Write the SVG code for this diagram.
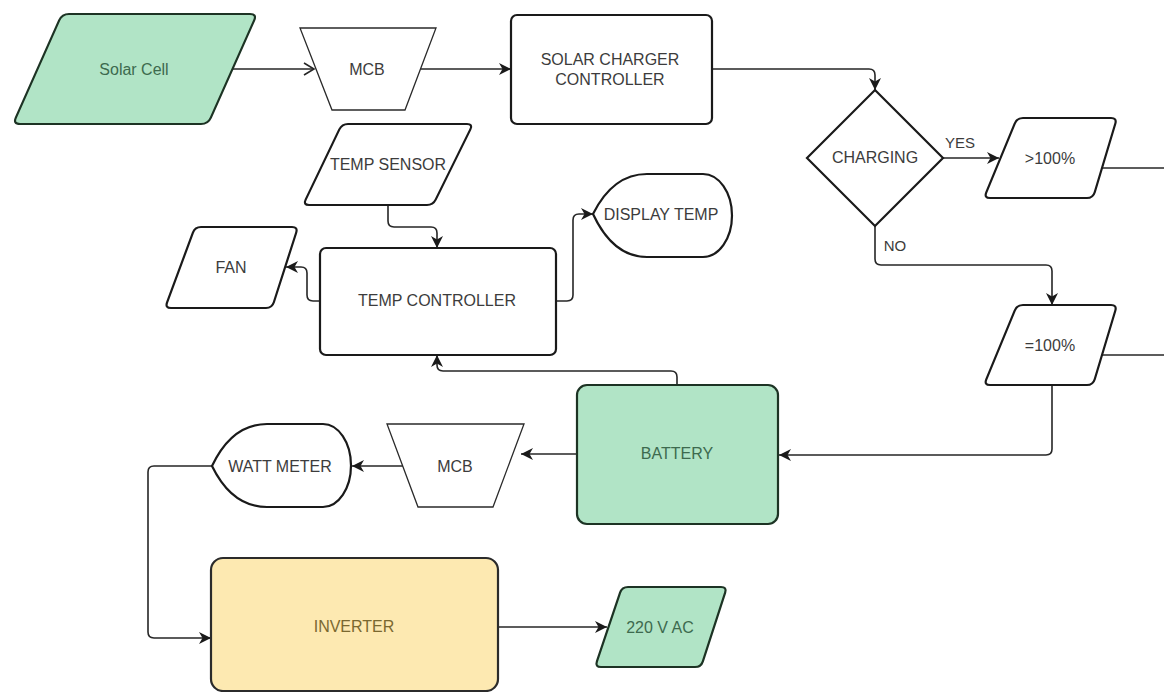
<svg xmlns="http://www.w3.org/2000/svg" width="1164" height="692" viewBox="0 0 1164 692">
<defs>
<style>
.n{fill:#ffffff;stroke:#1a1a1a;stroke-width:2.2}
.thin{fill:#ffffff;stroke:#2a2a2a;stroke-width:1.3}
.g{fill:#b1e4c6;stroke:#1d3324;stroke-width:2.2}
.y{fill:#fde9b1;stroke:#2b2b2b;stroke-width:2.2}
.t{font-family:"Liberation Sans",Arial,sans-serif;font-size:16px;fill:#3c3c3c;text-anchor:middle;dominant-baseline:central}
.tg{fill:#3d6a4e}
.ty{fill:#7a6830}
.lbl{font-family:"Liberation Sans",Arial,sans-serif;font-size:15px;fill:#3c3c3c}
.c{fill:none;stroke:#262626;stroke-width:1.6}
</style>
<marker id="a" markerWidth="13" markerHeight="12" refX="12" refY="6" orient="auto" markerUnits="userSpaceOnUse">
<path d="M0,0 L12,6 L0,12 L3.5,6 Z" fill="#1a1a1a"/>
</marker>
<marker id="o" markerWidth="13" markerHeight="14" refX="11" refY="7" orient="auto" markerUnits="userSpaceOnUse">
<path d="M1,1 L11,7 L1,13" fill="none" stroke="#262626" stroke-width="1.6"/>
</marker>
</defs>
<rect width="1164" height="692" fill="#ffffff"/>

<g id="connectors">
<path class="c" d="M233,69 L314,69" marker-end="url(#o)"/>
<path class="c" d="M421,69 L511,69" marker-end="url(#a)"/>
<path class="c" d="M712,69 L869,69 Q875,69 875,75 L875,90" marker-end="url(#a)"/>
<path class="c" d="M943,158 L999,158" marker-end="url(#a)"/>
<path class="c" d="M875,226 L875,259 Q875,265 881,265 L1046,265 Q1052,265 1052,271 L1052,305" marker-end="url(#a)"/>
<path class="c" d="M1102,168 L1164,168"/>
<path class="c" d="M1102,355 L1164,355"/>
<path class="c" d="M1052,385 L1052,449 Q1052,455 1046,455 L779,455" marker-end="url(#a)"/>
<path class="c" d="M677,385 L677,377 Q677,371 671,371 L443,371 Q437,371 437,365 L437,355" marker-end="url(#a)"/>
<path class="c" d="M576,454 L521,454" marker-end="url(#a)"/>
<path class="c" d="M403,466 L352,466" marker-end="url(#a)"/>
<path class="c" d="M212,466 L154,466 Q148,466 148,472 L148,632 Q148,638 154,638 L211,638" marker-end="url(#a)"/>
<path class="c" d="M498,627 L607,627" marker-end="url(#a)"/>
<path class="c" d="M388,205 L388,221 Q388,227 394,227 L431,227 Q437,227 437,233 L437,248" marker-end="url(#a)"/>
<path class="c" d="M320,301 L313,301 Q307,301 307,295 L307,273 Q307,267 301,267 L286,267" marker-end="url(#a)"/>
<path class="c" d="M556,301 L567,301 Q573,301 573,295 L573,220 Q573,214 579,214 L593,214" marker-end="url(#a)"/>
<text class="lbl" x="960" y="148" text-anchor="middle">YES</text>
<text class="lbl" x="895" y="251" text-anchor="middle">NO</text>
</g>

<g id="solar-cell">
<path class="g" d="M69,14 L250,14 Q257,14 254.15,20.4 L210.85,117.6 Q208,124 201,124 L20,124 Q13,124 15.85,117.6 L59.15,20.4 Q62,14 69,14 Z"/>
<text class="t tg" x="134" y="69">Solar Cell</text>
</g>

<g id="mcb1">
<polygon class="thin" points="300,28 436,28 405,110 332,110"/>
<text class="t" x="367" y="69">MCB</text>
</g>

<g id="solar-charger-controller">
<rect class="n" x="511" y="15" width="201" height="109" rx="6"/>
<text class="t" x="610" y="59">SOLAR CHARGER</text>
<text class="t" x="610" y="79">CONTROLLER</text>
</g>

<g id="charging">
<polygon class="n" points="875,90 943,158 875,226 807,158"/>
<text class="t" x="875" y="157">CHARGING</text>
</g>

<g id="gt100">
<path class="n" d="M1023,118 L1111,118 Q1117,118 1115.28,123.75 L1094.72,192.25 Q1093,198 1087,198 L990,198 Q984,198 986.29,192.45 L1014.71,123.55 Q1017,118 1023,118 Z"/>
<text class="t" x="1050" y="158">&gt;100%</text>
</g>

<g id="eq100">
<path class="n" d="M1023,305 L1111,305 Q1117,305 1115.28,310.75 L1094.72,379.25 Q1093,385 1087,385 L990,385 Q984,385 986.29,379.45 L1014.71,310.55 Q1017,305 1023,305 Z"/>
<text class="t" x="1050" y="345">=100%</text>
</g>

<g id="temp-sensor">
<path class="n" d="M348,124 L467,124 Q473,124 470.34,129.38 L435.66,199.62 Q433,205 427,205 L309,205 Q303,205 305.66,199.62 L339.34,129.38 Q342,124 348,124 Z"/>
<text class="t" x="388" y="164">TEMP SENSOR</text>
</g>

<g id="fan">
<path class="n" d="M201,227 L292,227 Q298,227 296.16,232.72 L273.84,302.28 Q272,308 266,308 L171,308 Q165,308 167.08,302.37 L192.92,232.63 Q195,227 201,227 Z"/>
<text class="t" x="231" y="267">FAN</text>
</g>

<g id="temp-controller">
<rect class="n" x="320" y="248" width="236" height="107" rx="6"/>
<text class="t" x="437" y="300">TEMP CONTROLLER</text>
</g>

<g id="display-temp">
<path class="n" d="M593,214 Q613,174 647,174 L703,174 A29,41.5 0 0 1 703,257 L647,257 Q613,257 593,214 Z"/>
<text class="t" x="661" y="214">DISPLAY TEMP</text>
</g>

<g id="battery">
<rect class="g" x="577" y="385" width="201" height="139" rx="10"/>
<text class="t tg" x="677" y="453">BATTERY</text>
</g>

<g id="mcb2">
<polygon class="thin" points="387,424 524,424 493,507 418,507"/>
<text class="t" x="455" y="466">MCB</text>
</g>

<g id="watt-meter">
<path class="n" d="M212,466 Q232,424 267,424 L323,424 A28,41.5 0 0 1 323,507 L267,507 Q232,507 212,466 Z"/>
<text class="t" x="280" y="466">WATT METER</text>
</g>

<g id="inverter">
<rect class="y" x="211" y="558" width="287" height="133" rx="12"/>
<text class="t ty" x="354" y="626">INVERTER</text>
</g>

<g id="ac220">
<path class="g" d="M628,587 L721,587 Q727,587 725.15,592.7 L702.85,661.3 Q701,667 695,667 L601,667 Q595,667 596.92,661.31 L620.08,592.69 Q622,587 628,587 Z"/>
<text class="t tg" x="660" y="627">220 V AC</text>
</g>
</svg>
